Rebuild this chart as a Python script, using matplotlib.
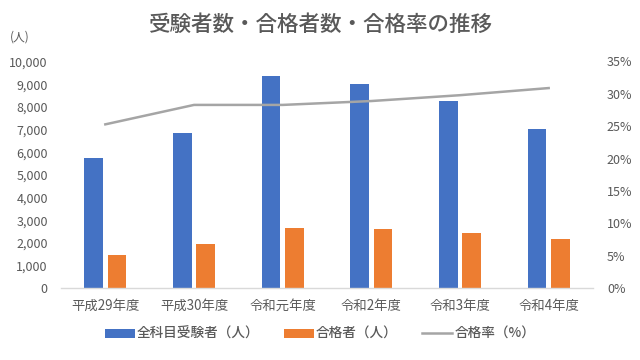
import matplotlib
matplotlib.use("Agg")
import matplotlib.pyplot as plt
import numpy as np
from matplotlib.ticker import FuncFormatter, MultipleLocator

plt.rcParams['font.family'] = ['Noto Sans CJK JP', 'DejaVu Sans']

categories = ["平成29年度", "平成30年度", "令和元年度", "令和2年度", "令和3年度", "令和4年度"]
examinees = [5760, 6830, 9370, 9010, 8260, 7020]
passers = [1470, 1940, 2660, 2600, 2450, 2170]
pass_rate = [25.3, 28.3, 28.3, 28.9, 29.8, 30.9]

series_names = ["全科目受験者（人）", "合格者（人）", "合格率（%）"]
title = "受験者数・合格者数・合格率の推移"

BLUE = "#4472C4"
ORANGE = "#ED7D31"
GRAY = "#A5A5A5"
TXT = "#595959"

fig = plt.figure(figsize=(6.4, 3.6), dpi=100)
ax = fig.add_axes([61/640, 1 - 288.3/360, 532/640, (288.3-61.5)/360])
ax2 = ax.twinx()

x = np.arange(len(categories))
w = 0.21
off = 0.13
b1 = ax.bar(x - off, examinees, w, color=BLUE, label=series_names[0], zorder=2)
b2 = ax.bar(x + off, passers, w, color=ORANGE, label=series_names[1], zorder=2)
l1, = ax2.plot(x, pass_rate, color=GRAY, lw=1.8, label=series_names[2], zorder=3)

ax.set_xlim(-0.5, len(categories) - 0.5)
ax.set_ylim(0, 10000)
ax.yaxis.set_major_locator(MultipleLocator(1000))
ax.yaxis.set_major_formatter(FuncFormatter(lambda v, p: f"{int(v):,}"))
ax2.set_ylim(0, 35)
ax2.yaxis.set_major_locator(MultipleLocator(5))
ax2.yaxis.set_major_formatter(FuncFormatter(lambda v, p: f"{int(v)}%"))

ax.set_xticks(x)
ax.set_xticklabels(categories)

for a in (ax, ax2):
    for s in ("top", "left", "right"):
        a.spines[s].set_visible(False)
    a.spines["bottom"].set_color("#D9D9D9")
    a.spines["bottom"].set_linewidth(1.0)
    a.tick_params(length=0, colors=TXT, labelsize=9)
ax2.spines["bottom"].set_visible(False)
ax.tick_params(axis='y', pad=9.5)
ax2.tick_params(axis='y', pad=10)
ax.tick_params(axis='x', pad=7.5, labelsize=9.6)

fig.text(0.5, 1 - 25/360, title, ha='center', va='center', fontsize=15.5, color=TXT, fontweight='medium')
fig.text(20/640, 1 - 37/360, "(人)", ha='center', va='center', fontsize=8.5, color=TXT)

leg = fig.legend(handles=[b1, b2, l1], labels=series_names, loc='center', bbox_to_anchor=(0.5, 1 - 334/360),
                 ncol=3, frameon=False, fontsize=9.8, handlelength=2.2, handleheight=0.6,
                 columnspacing=1.8, handletextpad=0.15)
for t in leg.get_texts():
    t.set_color(TXT)
    t.set_fontweight('medium')

fig.savefig("out.png", dpi=100)
